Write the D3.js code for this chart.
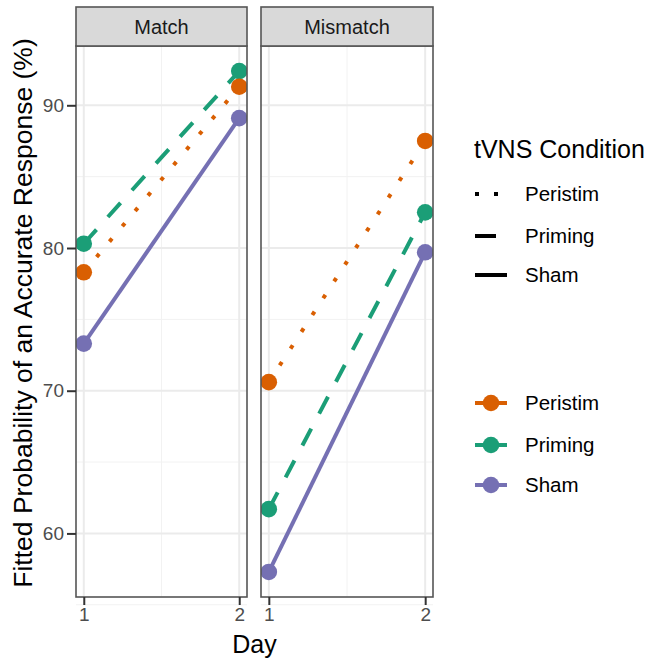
<!DOCTYPE html>
<html>
<head>
<meta charset="utf-8">
<script src="https://cdn.jsdelivr.net/npm/d3@7"></script>
<style>
  body { margin: 0; background: #fff; }
  text { font-family: "Liberation Sans", Arial, sans-serif; }
</style>
</head>
<body>
<div id="chart"></div>
<script>
// data
const days = [1, 2]
const facets = ["Match", "Mismatch"]
const conditions = ["Peristim", "Priming", "Sham"]
const matchPeristim = [78.3, 91.3]
const matchPriming = [80.3, 92.4]
const matchSham = [73.3, 89.1]
const mismatchPeristim = [70.6, 87.5]
const mismatchPriming = [61.7, 82.5]
const mismatchSham = [57.3, 79.7]
const yTicks = [60, 70, 80, 90]

const colors = ["#D95F02", "#1B9E77", "#7570B3"]
const dashes = ["4,16", "19,17", null]

var width = 650, height = 659
var panelTop = 46, panelBottom = 597, stripTop = 7
var panels = [[76, 247], [261, 433]]

var series = [
	[matchPeristim, matchPriming, matchSham],
	[mismatchPeristim, mismatchPriming, mismatchSham]
]

var allVals = series.flat(2)
var ext = d3.extent(allVals)
var pad = (ext[1] - ext[0]) * 0.05

var y = d3.scaleLinear()
	.domain([ext[0] - pad, ext[1] + pad])
	.range([panelBottom, panelTop])

var svg = d3.select("#chart").append("svg")
	.attr("width", width)
	.attr("height", height)

var color = d3.scaleOrdinal().domain(conditions).range(colors)
var dash = d3.scaleOrdinal().domain(conditions).range(dashes)

facets.forEach(function(f, fi) {
	var x = d3.scaleLinear()
		.domain([0.95, 2.05])
		.range(panels[fi])

	var g = svg.append("g")

	svg.append("clipPath").attr("id", "clip" + fi)
		.append("rect")
		.attr("x", panels[fi][0]).attr("y", panelTop)
		.attr("width", panels[fi][1] - panels[fi][0])
		.attr("height", panelBottom - panelTop)

	// minor grid
	var minorY = d3.range(55, 95, 10)
	g.selectAll(".minorY").data(minorY).enter().append("line")
		.attr("x1", panels[fi][0]).attr("x2", panels[fi][1])
		.attr("y1", d => y(d)).attr("y2", d => y(d))
		.attr("stroke", "#F2F2F2").attr("stroke-width", 1)
	g.append("line")
		.attr("x1", x(1.5)).attr("x2", x(1.5))
		.attr("y1", panelTop).attr("y2", panelBottom)
		.attr("stroke", "#F2F2F2").attr("stroke-width", 1)

	// major grid
	g.selectAll(".majorY").data(yTicks).enter().append("line")
		.attr("x1", panels[fi][0]).attr("x2", panels[fi][1])
		.attr("y1", d => y(d)).attr("y2", d => y(d))
		.attr("stroke", "#EBEBEB").attr("stroke-width", 2)
	g.selectAll(".majorX").data(days).enter().append("line")
		.attr("x1", d => x(d)).attr("x2", d => x(d))
		.attr("y1", panelTop).attr("y2", panelBottom)
		.attr("stroke", "#EBEBEB").attr("stroke-width", 2)

	var data = conditions.map((c, ci) => ({cond: c, vals: series[fi][ci]}))

	var line = d3.line()
		.x((d, i) => x(days[i]))
		.y(d => y(d))

	var plot = g.append("g").attr("clip-path", "url(#clip" + fi + ")")

	plot.selectAll(".series").data(data).enter().append("path")
		.attr("d", d => line(d.vals))
		.attr("fill", "none")
		.attr("stroke", d => color(d.cond))
		.attr("stroke-width", 4)
		.attr("stroke-dasharray", d => dash(d.cond))

	data.slice().reverse().forEach(function(d) {
		plot.selectAll(null).data(d.vals).enter().append("circle")
			.attr("cx", (v, i) => x(days[i]))
			.attr("cy", v => y(v))
			.attr("r", 8.3)
			.attr("fill", color(d.cond))
	})

	// border
	g.append("rect")
		.attr("x", panels[fi][0]).attr("y", panelTop)
		.attr("width", panels[fi][1] - panels[fi][0])
		.attr("height", panelBottom - panelTop)
		.attr("fill", "none").attr("stroke", "#555").attr("stroke-width", 1.6)

	// strip
	g.append("rect")
		.attr("x", panels[fi][0]).attr("y", stripTop)
		.attr("width", panels[fi][1] - panels[fi][0])
		.attr("height", panelTop - stripTop)
		.attr("fill", "#D9D9D9").attr("stroke", "#555").attr("stroke-width", 1.6)
	g.append("text")
		.attr("x", (panels[fi][0] + panels[fi][1]) / 2)
		.attr("y", (stripTop + panelTop) / 2 + 7)
		.attr("text-anchor", "middle")
		.attr("font-size", 20)
		.attr("fill", "#1A1A1A")
		.text(f)

	// x axis
	var xAxis = d3.axisBottom(x).tickValues(days).tickFormat(d3.format("d")).tickSize(8).tickPadding(3)
	var xg = g.append("g")
		.attr("transform", "translate(0," + panelBottom + ")")
		.call(xAxis)
	xg.select(".domain").remove()
	xg.selectAll(".tick line").attr("stroke", "#333").attr("stroke-width", 2)
	xg.selectAll(".tick text").attr("font-size", 19).attr("fill", "#4D4D4D")
		.attr("font-family", "Liberation Sans, Arial, sans-serif")
})

// y axis
var yAxis = d3.axisLeft(y).tickValues(yTicks).tickSize(9).tickPadding(3)
var yg = svg.append("g")
	.attr("transform", "translate(" + panels[0][0] + ",0)")
	.call(yAxis)
yg.select(".domain").remove()
yg.selectAll(".tick line").attr("stroke", "#333").attr("stroke-width", 2)
yg.selectAll(".tick text").attr("font-size", 19).attr("fill", "#4D4D4D")
	.attr("font-family", "Liberation Sans, Arial, sans-serif")

// titles
svg.append("text")
	.attr("x", (panels[0][0] + panels[1][1]) / 2)
	.attr("y", 653)
	.attr("text-anchor", "middle")
	.attr("font-size", 25)
	.text("Day")

svg.append("text")
	.attr("transform", "translate(32,313) rotate(-90)")
	.attr("text-anchor", "middle")
	.attr("font-size", 26.5)
	.text("Fitted Probability of an Accurate Response (%)")

// legends
var legendX = 474
svg.append("text")
	.attr("x", legendX).attr("y", 158)
	.attr("font-size", 25)
	.text("tVNS Condition")

var ltRows = [194, 236, 275]
conditions.forEach(function(c, i) {
	svg.append("line")
		.attr("x1", legendX + 1).attr("x2", legendX + 33)
		.attr("y1", ltRows[i]).attr("y2", ltRows[i])
		.attr("stroke", "#000").attr("stroke-width", 4)
		.attr("stroke-dasharray", i == 0 ? "4,15" : (i == 1 ? "21,20" : null))
	svg.append("text")
		.attr("x", 525).attr("y", ltRows[i] + 7)
		.attr("font-size", 20.5)
		.text(c)
})

var colRows = [403, 445, 485]
conditions.forEach(function(c, i) {
	svg.append("line")
		.attr("x1", legendX + 1).attr("x2", legendX + 33)
		.attr("y1", colRows[i]).attr("y2", colRows[i])
		.attr("stroke", color(c)).attr("stroke-width", 4)
	svg.append("circle")
		.attr("cx", legendX + 17).attr("cy", colRows[i])
		.attr("r", 8.3).attr("fill", color(c))
	svg.append("text")
		.attr("x", 525).attr("y", colRows[i] + 7)
		.attr("font-size", 20.5)
		.text(c)
})
</script>
</body>
</html>
